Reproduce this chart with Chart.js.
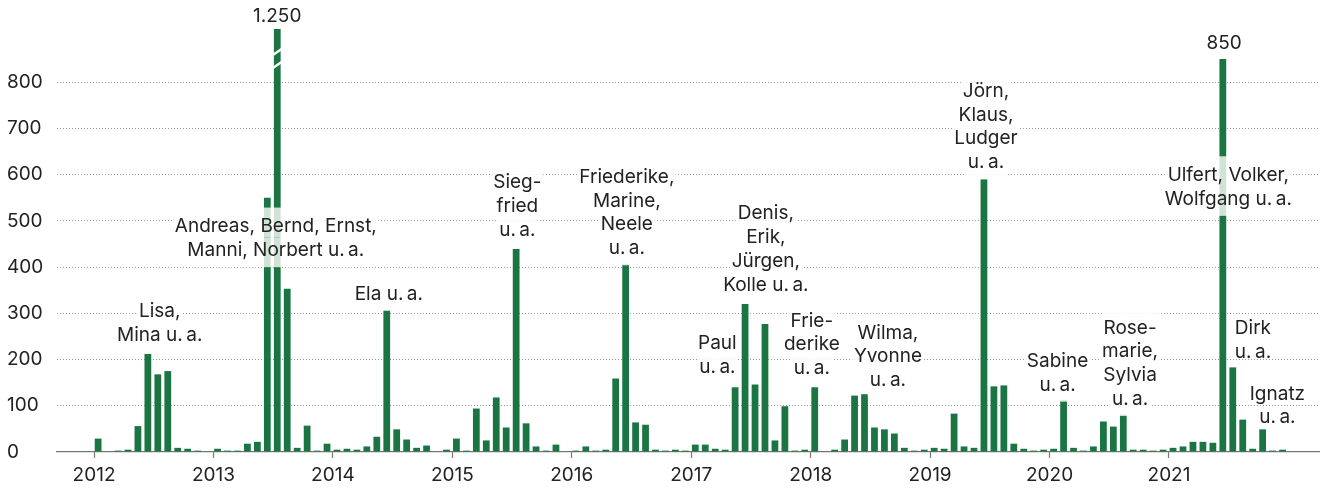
<!DOCTYPE html>
<html lang="de">
<head>
<meta charset="utf-8">
<title>Sturmtiefe pro Monat</title>
<script src="https://cdn.jsdelivr.net/npm/chart.js@4.4.1/dist/chart.umd.min.js"></script>
<style>
  html, body { margin: 0; padding: 0; background: #fff; }
  canvas { display: block; }
</style>
</head>
<body>
<canvas id="chart" width="1327" height="489"></canvas>
<script>
// Monthly counts, Jan..Dec, one array per year
const years = [2012, 2013, 2014, 2015, 2016, 2017, 2018, 2019, 2020, 2021];
const yearTicks = ['2012', '2013', '2014', '2015', '2016', '2017', '2018', '2019', '2020', '2021'];
const valueTicks = [0, 100, 200, 300, 400, 500, 600, 700, 800];

const m2012 = [29, 1, 3, 5, 56, 212, 168, 175, 9, 7, 3, 1];
const m2013 = [7, 3, 3, 18, 22, 550, 1250, 353, 9, 57, 3, 18];
const m2014 = [5, 7, 5, 12, 33, 307, 49, 27, 9, 14, 1, 5];
const m2015 = [29, 3, 94, 25, 118, 53, 439, 62, 12, 3, 16, 1];
const m2016 = [3, 12, 3, 5, 159, 406, 64, 59, 5, 3, 5, 3];
const m2017 = [16, 16, 7, 5, 140, 320, 146, 277, 25, 99, 3, 5];
const m2018 = [140, 1, 5, 27, 122, 125, 53, 49, 40, 9, 3, 5];
const m2019 = [9, 7, 83, 12, 9, 590, 142, 144, 18, 7, 3, 5];
const m2020 = [7, 112, 9, 3, 12, 66, 55, 81, 5, 5, 3, 5];
const m2021 = [9, 12, 22, 22, 20, 850, 183, 70, 7, 49, 3, 5];
const monthly = [m2012, m2013, m2014, m2015, m2016, m2017, m2018, m2019, m2020, m2021];

// Names of the storm lows; x = year position, y = value of first text line
const notes = [
  { lines: ['1.250'], x: 2013.534, y: 945, box: false },
  { lines: ['Andreas, Bernd, Ernst,', 'Manni, Norbert u.\u2009a.'], x: 2013.522, y: 490, box: true },
  { lines: ['Lisa,', 'Mina u.\u2009a.'], x: 2012.55, y: 307, box: true },
  { lines: ['Ela u.\u2009a.'], x: 2014.468, y: 344, box: true },
  { lines: ['Sieg-', 'fried', 'u.\u2009a.'], x: 2015.544, y: 585, box: true },
  { lines: ['Friederike,', 'Marine,', 'Neele', 'u.\u2009a.'], x: 2016.461, y: 597, box: true },
  { lines: ['Denis,', 'Erik,', 'Jürgen,', 'Kolle u.\u2009a.'], x: 2017.625, y: 518, box: true },
  { lines: ['Paul', 'u.\u2009a.'], x: 2017.219, y: 237, box: true },
  { lines: ['Frie-', 'derike', 'u.\u2009a.'], x: 2018.01, y: 286, box: true },
  { lines: ['Wilma,', 'Yvonne', 'u.\u2009a.'], x: 2018.647, y: 260, box: true },
  { lines: ['Jörn,', 'Klaus,', 'Ludger', 'u.\u2009a.'], x: 2019.468, y: 783, box: true },
  { lines: ['Sabine', 'u.\u2009a.'], x: 2020.067, y: 199, box: true },
  { lines: ['Rose-', 'marie,', 'Sylvia', 'u.\u2009a.'], x: 2020.674, y: 271, box: true },
  { lines: ['850'], x: 2021.461, y: 886, box: false },
  { lines: ['Ulfert, Volker,', 'Wolfgang u.\u2009a.'], x: 2021.497, y: 601, box: true },
  { lines: ['Dirk', 'u.\u2009a.'], x: 2021.703, y: 270, box: false },
  { lines: ['Ignatz', 'u.\u2009a.'], x: 2021.908, y: 128, box: false },
];

const Y_MAX = 915;
const FONT = 'Inter, "Noto Sans", sans-serif';
const FONT_SIZE = 19;
const GREEN = '#1b7542';
const TEXT = '#222';

const points = [];
years.forEach((yr, yi) => {
  monthly[yi].forEach((v, m) => points.push({ x: yr + (m + 0.41) / 12, y: v }));
});

// White slashes across the bar that runs off the top
const breakPlugin = {
  id: 'axisBreak',
  afterDatasetsDraw(chart) {
    const idx = points.findIndex(p => p.y > Y_MAX);
    const bar = chart.getDatasetMeta(0).data[idx];
    if (!bar) return;
    const { ctx } = chart;
    const top = chart.chartArea.top;
    const l = bar.x - bar.width / 2 - 1;
    const r = bar.x + bar.width / 2 + 1;
    ctx.save();
    ctx.strokeStyle = '#fff';
    ctx.lineWidth = 2.5;
    [23, 36].forEach(dy => {
      ctx.beginPath();
      ctx.moveTo(l, top + dy + 3);
      ctx.lineTo(r, top + dy - 3);
      ctx.stroke();
    });
    ctx.restore();
  },
};

const notesPlugin = {
  id: 'notes',
  afterDatasetsDraw(chart) {
    const { ctx } = chart;
    const { x, y } = chart.scales;
    const lh = 23.8;
    ctx.save();
    ctx.font = FONT_SIZE + 'px ' + FONT;
    ctx.textAlign = 'center';
    ctx.textBaseline = 'alphabetic';
    // backgrounds first
    notes.forEach(n => {
      if (!n.box) return;
      const cx = x.getPixelForValue(n.x);
      const cy = y.getPixelForValue(n.y);
      n.lines.forEach((line, i) => {
        const c = cy + i * lh;
        const w = ctx.measureText(line).width + 4;
        const t = c - lh / 2 - (i === 0 ? 6 : 0);
        const b = c + lh / 2 + (i === n.lines.length - 1 ? 6 : 0);
        ctx.fillStyle = 'rgba(255,255,255,0.8)';
        ctx.fillRect(cx - w / 2, t, w, b - t);
      });
    });
    ctx.fillStyle = TEXT;
    notes.forEach(n => {
      const cx = x.getPixelForValue(n.x);
      const cy = y.getPixelForValue(n.y);
      n.lines.forEach((line, i) => ctx.fillText(line, cx, cy + i * lh + 6.8));
    });
    ctx.restore();
  },
};

new Chart(document.getElementById('chart'), {
  type: 'bar',
  data: {
    datasets: [{
      data: points,
      backgroundColor: GREEN,
      borderWidth: 0,
      barPercentage: 0.68,
      categoryPercentage: 1,
      clip: 0,
    }],
  },
  options: {
    responsive: false,
    animation: false,
    events: [],
    layout: { padding: { left: 7, right: 8, top: 29, bottom: 0 } },
    plugins: {
      legend: { display: false },
      tooltip: { enabled: false },
    },
    scales: {
      x: {
        type: 'linear',
        offset: false,
        min: 2011.69,
        max: 2022.256,
        afterBuildTicks: s => { s.ticks = yearTicks.map(t => ({ value: Number(t) })); },
        afterFit: s => { s.height = 37; },
        grid: { offset: false, drawOnChartArea: false, drawTicks: true, tickLength: 6, tickColor: '#777', tickWidth: 1.2 },
        border: { display: true, color: '#777', width: 1.2 },
        ticks: {
          color: TEXT,
          font: { family: FONT, size: FONT_SIZE },
          padding: 6,
          maxRotation: 0,
          autoSkip: false,
          callback: (v, i) => yearTicks[i],
        },
      },
      y: {
        min: 0,
        max: Y_MAX,
        afterBuildTicks: s => { s.ticks = valueTicks.map(v => ({ value: v })); },
        afterFit: s => { s.width = 50; },
        grid: {
          drawTicks: false,
          lineWidth: 1,
          color: c => (c.tick && c.tick.value === 0 ? 'rgba(0,0,0,0)' : '#999'),
        },
        border: { display: false, dash: [1, 2] },
        ticks: {
          color: TEXT,
          font: { family: FONT, size: FONT_SIZE },
          crossAlign: 'far',
          padding: 0,
          callback: v => String(v),
        },
      },
    },
  },
  plugins: [breakPlugin, notesPlugin],
});
</script>
</body>
</html>
